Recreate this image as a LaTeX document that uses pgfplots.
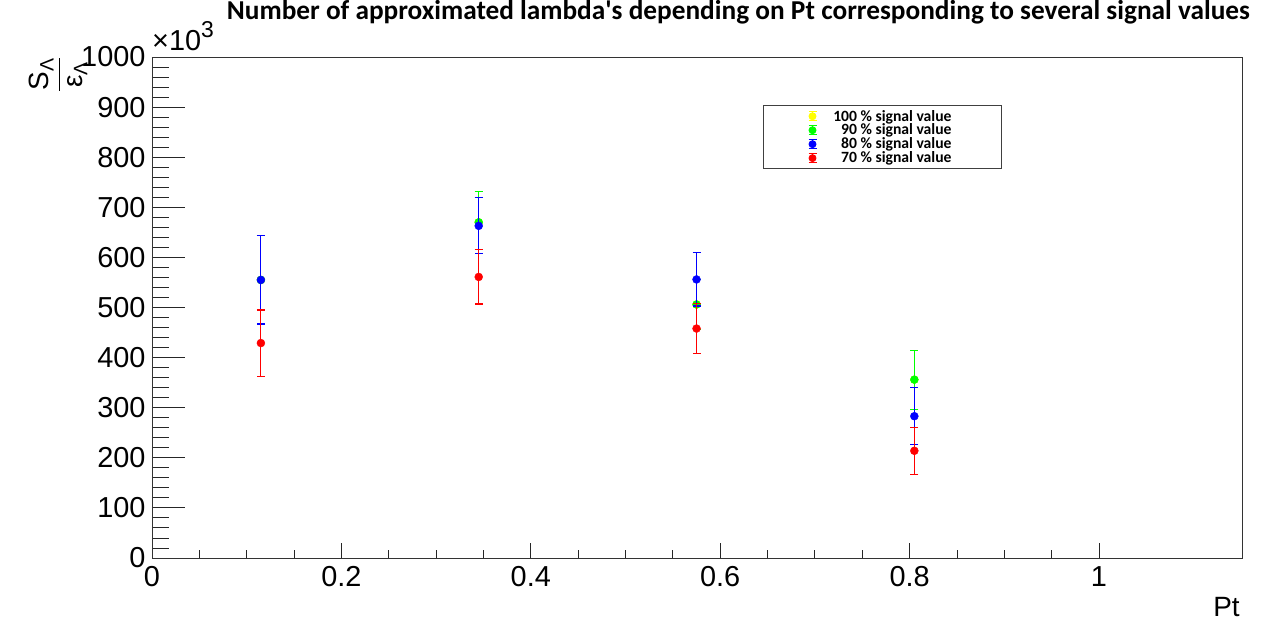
\documentclass[border=0pt]{standalone}
\usepackage{amsmath}
\usepackage{pgfplots}
\pgfplotsset{compat=1.18}
\usepackage{pgfplotstable}
\usepackage{fontspec}
\setmainfont{Liberation Sans}
\newfontfamily\carlito{Carlito}

\pgfplotstableread{
x y e
0.115 555 88
0.345 670 62
0.575 506 50
0.805 356 59
}\yellowdata
\pgfplotstableread{
x y e
0.115 555 88
0.345 670 62
0.575 506 50
0.805 356 59
}\greendata
\pgfplotstableread{
x y e
0.115 555 88
0.345 663 56
0.575 556 53
0.805 283 57
}\bluedata
\pgfplotstableread{
x y e
0.115 429 66
0.345 561 54
0.575 458 50
0.805 214 47
}\reddata

\definecolor{rYellow}{RGB}{255,255,0}
\definecolor{rGreen}{RGB}{0,255,0}
\definecolor{rBlue}{RGB}{0,0,255}
\definecolor{rRed}{RGB}{255,0,0}

\pgfplotsset{
  common/.style={
    at={(0,0)}, anchor=south west,
    width=1090bp, height=501bp, scale only axis,
    xmin=0, xmax=1.151, ymin=0, ymax=1000,
    tick align=inside,
    xtick pos=bottom, ytick pos=left,
    /pgf/number format/assume math mode=true,
    /pgf/number format/1000 sep={},
    scaled ticks=false,
    tick label style={font=\fontsize{29}{32}\selectfont},
    yticklabel style={xshift=-3bp},
    xticklabel style={yshift=-5bp},
    axis line style={black!80, line width=0.9bp},
    tick style={black!85, line width=0.9bp},
    clip mode=individual,
  },
  ser/.style={
    only marks, mark=*, mark size=4bp, color=#1, mark options={fill=#1, draw=#1},
    error bars/.cd, y dir=both, y explicit,
    error mark options={rotate=90, mark size=4bp, color=#1, line width=1.1bp},
    error bar style={line width=1.1bp, color=#1},
  },
}

\begin{document}
\begin{tikzpicture}
\useasboundingbox (-152bp,-65bp) rectangle (1110bp,558bp);
% x ticks axis
\begin{axis}[common,
  xtick={0,0.2,0.4,0.6,0.8,1},
  xticklabels={0,0.2,0.4,0.6,0.8,1},
  minor x tick num=3,
  ytick=\empty,
  major tick length=15bp, minor tick length=8bp,
]
\end{axis}
% main axis
\begin{axis}[common,
  xtick=\empty,
  ytick={0,100,...,1000},
  minor y tick num=4,
  major tick length=33bp, minor tick length=17bp,
  legend style={at={(axis description cs:0.5606,0.904)}, anchor=north west,
    draw=black!75, line width=0.9bp, inner xsep=2bp, inner ysep=2.5bp,
    font=\carlito\bfseries\fontsize{15.7}{16}\selectfont, row sep=-2.5bp},
  legend cell align=left,
  legend image code/.code={
    \path[draw=none,fill=none] (-47bp,0bp) -- (6bp,0bp);
    \draw[#1, line width=0.9bp] (0bp,-4.5bp) -- (0bp,4.5bp) (-4bp,-4.5bp) -- (4bp,-4.5bp) (-4bp,4.5bp) -- (4bp,4.5bp);
    \fill[#1] (0bp,0bp) circle (3.5bp);
  },
]
\addplot+[ser=rYellow] table[x=x,y=y,y error=e]{\yellowdata};
\addlegendentry{\makebox[131bp][r]{100 \% signal value}\hspace*{46bp}}
\addplot+[ser=rGreen] table[x=x,y=y,y error=e]{\greendata};
\addlegendentry{\makebox[131bp][r]{90 \% signal value}\hspace*{46bp}}
\addplot+[ser=rBlue] table[x=x,y=y,y error=e]{\bluedata};
\addlegendentry{\makebox[131bp][r]{80 \% signal value}\hspace*{46bp}}
\addplot+[ser=rRed] table[x=x,y=y,y error=e]{\reddata};
\addlegendentry{\makebox[131bp][r]{70 \% signal value}\hspace*{46bp}}

\node[anchor=base, font=\carlito\bfseries\fontsize{27.4}{30}\selectfont, inner sep=0pt] at (axis description cs:0.538,1.0739) {Number of approximated lambda's depending on Pt corresponding to several signal values};
\node[anchor=base west, font=\fontsize{29}{30}\selectfont, inner sep=0pt] at (axis description cs:0,1.012) {×10\raisebox{13bp}{\fontsize{23}{24}\selectfont 3}};
\node[anchor=base east, font=\fontsize{28}{30}\selectfont, inner sep=0pt] at (axis description cs:0.998,-0.116) {Pt};
\node[rotate=90, anchor=east, inner sep=0pt, font=\fontsize{28}{30}\selectfont] at (axis description cs:-0.086,1.0) {$\displaystyle\frac{\text{S}_{\text{Λ}}}{\text{ε}_{\text{Λ}}}$};
\end{axis}
\end{tikzpicture}
\end{document}
